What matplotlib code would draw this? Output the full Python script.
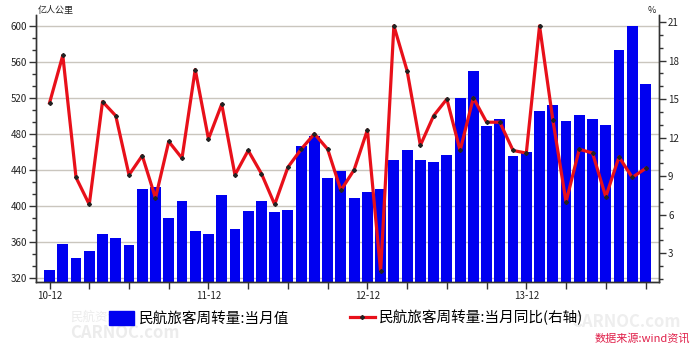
import matplotlib
matplotlib.use("Agg")
import matplotlib.pyplot as plt
import numpy as np
from matplotlib.patches import Patch
from matplotlib.lines import Line2D
from matplotlib.ticker import MultipleLocator

plt.rcParams['font.family'] = ['Noto Sans CJK SC', 'DejaVu Sans']

# 民航旅客周转量 2010-12 ~ 2014-09
tick_labels = ["10-12", "11-12", "12-12", "13-12"]
monthly = [329, 358, 342, 350, 369, 365, 357, 419, 421, 387,
           406, 372, 369, 412, 375, 395, 406, 394, 396, 467,
           478, 431, 439, 409, 416, 419, 451, 462, 451, 449,
           457, 520, 550, 489, 497, 456, 460, 506, 512, 495,
           501, 497, 490, 573, 600, 536]
yoy = [14.7, 18.4, 8.9, 6.8, 14.8, 13.7, 9.1, 10.6, 7.3, 11.7,
       10.4, 17.3, 11.9, 14.6, 9.1, 11.0, 9.2, 6.8, 9.7, 11.1,
       12.3, 11.1, 7.9, 9.5, 12.6, 1.6, 20.7, 17.2, 11.4, 13.7,
       15.0, 11.0, 15.1, 13.2, 13.2, 11.0, 10.8, 20.7, 13.4, 7.0,
       11.1, 10.8, 7.4, 10.5, 8.9, 9.6]

x = np.arange(len(monthly))

fig = plt.figure(figsize=(6.97, 3.58), dpi=100)
ax = fig.add_axes([0.0517, 0.2123, 0.8938, 0.7458])
ax2 = ax.twinx()

ax.bar(x, monthly, width=0.82, color='#0000f0', zorder=2)
ax.set_ylim(315.9, 612.2)
ax.set_xlim(-1.02, 46.02)
ax.yaxis.set_major_locator(MultipleLocator(40))
ax.yaxis.set_minor_locator(MultipleLocator(40 / 3))
ax.grid(axis='y', color='#cac6be', linewidth=1, zorder=0)
ax.set_axisbelow(True)

ax.set_xticks(np.arange(0, len(monthly), 3))
ax.set_xticklabels([tick_labels[i // 12] if i % 12 == 0 else "" for i in range(0, len(monthly), 3)])

ax2.plot(x, yoy, color='#e8101a', linewidth=2.3, marker='D', markersize=2,
         markerfacecolor='#222222', markeredgecolor='#222222', zorder=3)
ax2.set_ylim(0.77, 21.54)
ax2.yaxis.set_major_locator(MultipleLocator(3))
ax2.yaxis.set_minor_locator(MultipleLocator(1))
ax2.set_yticks([3, 6, 9, 12, 15, 18, 21])

for a in (ax, ax2):
    a.spines['top'].set_visible(False)
    for s in ('left', 'right', 'bottom'):
        a.spines[s].set_color('#333333')
        a.spines[s].set_linewidth(1)
    a.tick_params(which='major', length=5, width=1, color='#333333',
                  labelsize=7, labelcolor='#222222', pad=1.5)
    a.tick_params(which='minor', length=3, width=1, color='#333333')

ax.text(0.002, 1.0, "亿人公里", transform=ax.transAxes, fontsize=6.5,
        ha='left', va='bottom', color='#222222')
ax2.text(0.995, 1.0, "%", transform=ax2.transAxes, fontsize=6.5,
         ha='right', va='bottom', color='#222222')

handles = [Patch(facecolor='#0000f0', edgecolor='#0000f0'),
           Line2D([0], [0], color='#e8101a', linewidth=2.3, marker='D', markersize=2,
                  markerfacecolor='#222222', markeredgecolor='#222222')]
fig.legend(handles, ["民航旅客周转量:当月值", "民航旅客周转量:当月同比(右轴)"],
           loc='center', bbox_to_anchor=(0.497, 0.112), ncol=2, frameon=False,
           fontsize=10.5, handlelength=1.7, handleheight=1.1, handletextpad=0.3,
           columnspacing=4.2)

# 水印与来源
fig.text(0.10, 0.115, "民航资源网", fontsize=9, color='#ececec', ha='left', va='center')
fig.text(0.10, 0.07, "CARNOC.com", fontsize=12, color='#ececec', ha='left', va='center',
         fontweight='bold')
fig.text(0.82, 0.10, "CARNOC.com", fontsize=12, color='#eeeeee', ha='left', va='center',
         fontweight='bold')
fig.text(0.99, 0.055, "数据来源:wind资讯", fontsize=8, color='#e0204a', ha='right',
         va='center', style='italic')

fig.savefig("out.png", dpi=100)
